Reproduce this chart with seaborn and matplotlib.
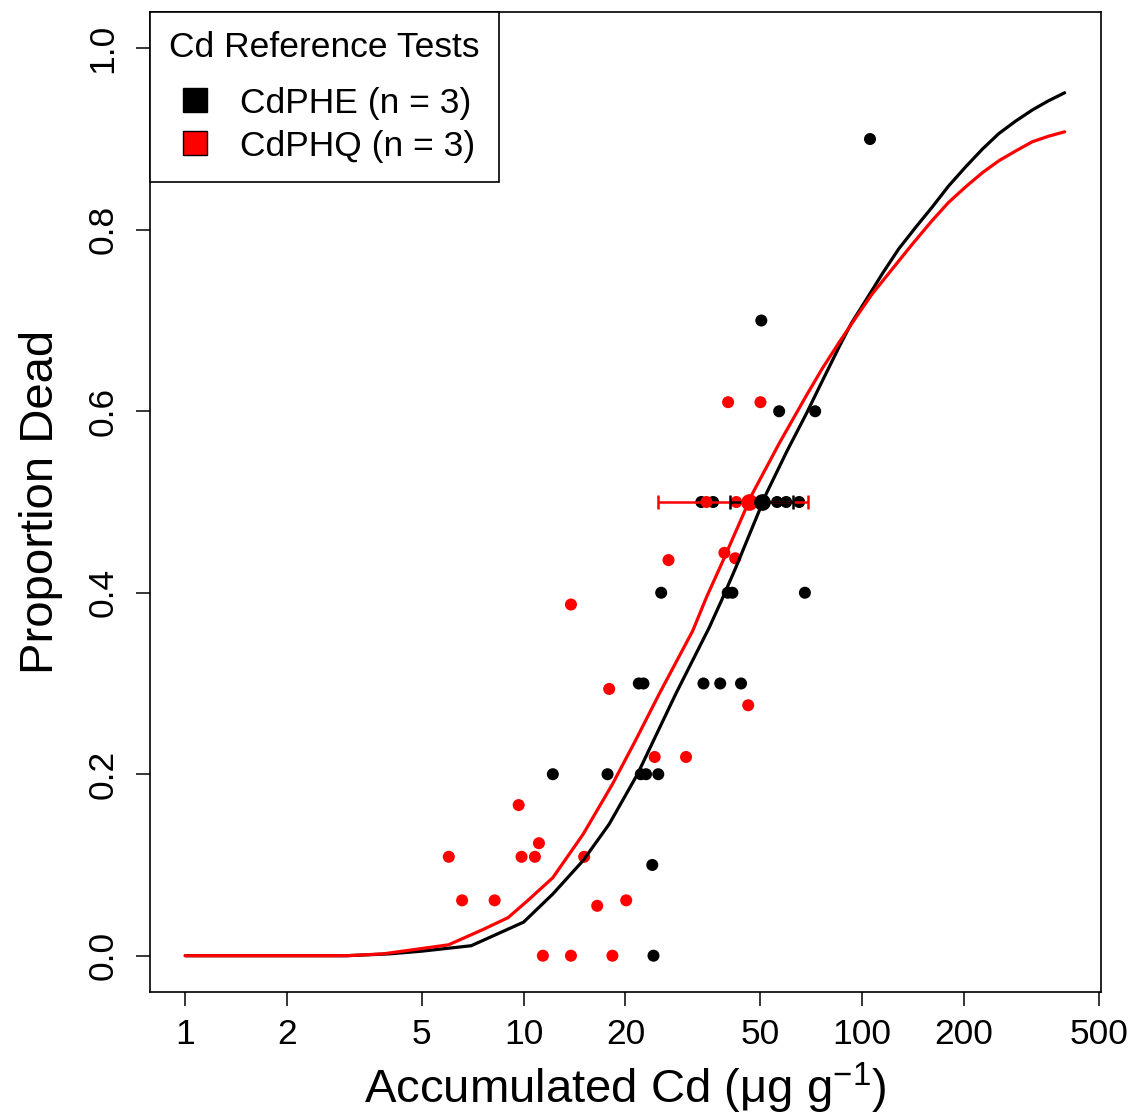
import numpy as np
import pandas as pd
import matplotlib
matplotlib.use("Agg")
import matplotlib.pyplot as plt
import seaborn as sns
from matplotlib.lines import Line2D

# Observed points, CdPHE (black)
phe_x = [105.6, 50.4, 56.9, 72.7, 33.5, 36.3, 56.1, 59.7, 65.2, 25.5, 40.1, 41.4, 67.8,
         21.9, 22.6, 34.0, 38.1, 43.9, 12.2, 17.7, 22.2, 23.0, 25.0, 24.0, 24.2]
phe_y = [0.9, 0.7, 0.6, 0.6, 0.5, 0.5, 0.5, 0.5, 0.5, 0.4, 0.4, 0.4, 0.4,
         0.3, 0.3, 0.3, 0.3, 0.3, 0.2, 0.2, 0.2, 0.2, 0.2, 0.1, 0.0]

# Observed points, CdPHQ (red)
phq_x = [40.2, 50.1, 34.7, 42.5, 26.8, 39.2, 42.2, 13.8, 17.9, 46.1, 24.4, 30.2, 9.67,
         6.01, 9.86, 10.8, 15.1, 11.1, 6.58, 8.21, 20.1, 16.5, 11.4, 13.8, 18.3]
phq_y = [0.61, 0.61, 0.5, 0.5, 0.436, 0.444, 0.438, 0.387, 0.294, 0.276, 0.219, 0.219, 0.166,
         0.109, 0.109, 0.109, 0.109, 0.124, 0.061, 0.061, 0.061, 0.055, 0.0, 0.0, 0.0]

# Fitted curves
phe_fit_x = [1, 2, 3, 4, 5, 7, 10, 12.2, 15, 17.9, 21.7, 28.2, 35.4, 38.5, 42.4, 52.1,
             60, 68.4, 76, 85.6, 93, 102.5, 115, 128.4, 145, 161.2, 180, 202, 227,
             253.6, 285, 318.6, 355, 397]
phe_fit_y = [0, 0, 0, 0.002, 0.005, 0.011, 0.037, 0.068, 0.105, 0.145, 0.2, 0.289, 0.362,
             0.392, 0.428, 0.509, 0.556, 0.597, 0.632, 0.671, 0.697, 0.722, 0.752, 0.779,
             0.804, 0.825, 0.848, 0.869, 0.889, 0.906, 0.920, 0.932, 0.942, 0.951]
phq_fit_x = [1, 2, 3, 3.84, 6.0, 7.6, 9.0, 10.3, 12.2, 15, 18.3, 21.4, 25.2, 31.6, 34.7,
             38.8, 47.4, 57, 68.4, 76, 85.6, 95.8, 107, 120, 140, 161, 180, 202, 227,
             253.6, 285, 318.6, 355, 397]
phq_fit_y = [0, 0, 0, 0.002, 0.012, 0.029, 0.042, 0.061, 0.086, 0.134, 0.189, 0.237, 0.289,
             0.358, 0.395, 0.435, 0.509, 0.565, 0.617, 0.646, 0.676, 0.703, 0.729, 0.752,
             0.783, 0.810, 0.830, 0.847, 0.863, 0.876, 0.887, 0.897, 0.903, 0.908]

# LC50 with confidence limits
ec50 = {"CdPHE": (50.7, 40.8, 62.6), "CdPHQ": (46.4, 24.9, 69.3)}
colors = {"CdPHE": "black", "CdPHQ": "red"}

sns.set_style("ticks")
plt.rcParams["font.family"] = ["Liberation Sans", "DejaVu Sans"]
plt.rcParams["mathtext.fontset"] = "custom"
plt.rcParams["mathtext.rm"] = "Liberation Sans"
plt.rcParams["mathtext.it"] = "Liberation Sans:italic"
plt.rcParams["text.color"] = "black"
plt.rcParams["axes.labelcolor"] = "black"

pts = pd.concat([
    pd.DataFrame({"x": phe_x, "y": phe_y, "test": "CdPHE"}),
    pd.DataFrame({"x": phq_x, "y": phq_y, "test": "CdPHQ"}),
])
fits = pd.concat([
    pd.DataFrame({"x": phe_fit_x, "y": phe_fit_y, "test": "CdPHE"}),
    pd.DataFrame({"x": phq_fit_x, "y": phq_fit_y, "test": "CdPHQ"}),
])

fig = plt.figure(figsize=(11.32, 11.19), dpi=100)
ax = fig.add_axes([150 / 1132, 1 - 992 / 1119, 951 / 1132, 980 / 1119])

sns.scatterplot(data=pts, x="x", y="y", hue="test", palette=colors, s=75,
                linewidth=0, legend=False, ax=ax, zorder=3)
sns.lineplot(data=fits, x="x", y="y", hue="test", palette=colors, lw=2.3,
             estimator=None, sort=False, legend=False, ax=ax, zorder=4)

for name in ["CdPHQ", "CdPHE"]:
    m, lo, hi = ec50[name]
    ax.errorbar([m], [0.5], xerr=[[m - lo], [hi - m]], fmt="o", color=colors[name],
                ms=11, elinewidth=1.8, capsize=5, capthick=1.8, zorder=5)

ax.set_xscale("log")
ax.set_xlim(0.787, 508.4)
ax.set_ylim(-0.04, 1.04)

xt = [1, 2, 5, 10, 20, 50, 100, 200, 500]
ax.set_xticks(xt)
ax.set_xticklabels([str(v) for v in xt])
ax.xaxis.set_minor_locator(matplotlib.ticker.NullLocator())
yt = [0, 0.2, 0.4, 0.6, 0.8, 1.0]
ax.set_yticks(yt)
ax.set_yticklabels([f"{v:.1f}" for v in yt], rotation=90, va="center")

ax.tick_params(axis="both", direction="out", length=10, width=1.1, labelsize=25.5,
               color="black", labelcolor="black")
ax.tick_params(axis="x", pad=9)
ax.tick_params(axis="y", pad=12)
for sp in ax.spines.values():
    sp.set_visible(True)
    sp.set_linewidth(1.2)
    sp.set_color("black")

ax.set_xlabel("Accumulated Cd (μg g$^{-1}$)", fontsize=34, color="black")
ax.set_ylabel("Proportion Dead", fontsize=34, color="black")
ax.xaxis.set_label_coords(0.5, -0.07)
ax.yaxis.set_label_coords(-0.092, 0.5)

handles = [
    Line2D([], [], ls="none", marker="s", ms=17, mfc="black", mec="black", mew=1),
    Line2D([], [], ls="none", marker="s", ms=17, mfc="red", mec="black", mew=1),
]
leg = ax.legend(handles, ["CdPHE (n = 3)", "CdPHQ (n = 3)"], title="Cd Reference Tests",
                loc="upper left", bbox_to_anchor=(0, 1), borderaxespad=0, fontsize=25.5,
                title_fontsize=25.5, alignment="left", handlelength=1.45,
                handletextpad=0.54, labelspacing=0.28, borderpad=0.55, fancybox=False,
                edgecolor="black", framealpha=1)
leg.get_frame().set_linewidth(1.2)
leg._legend_box.sep = 16  # extra gap below the title, in points

fig.savefig("out.png", dpi=100)
